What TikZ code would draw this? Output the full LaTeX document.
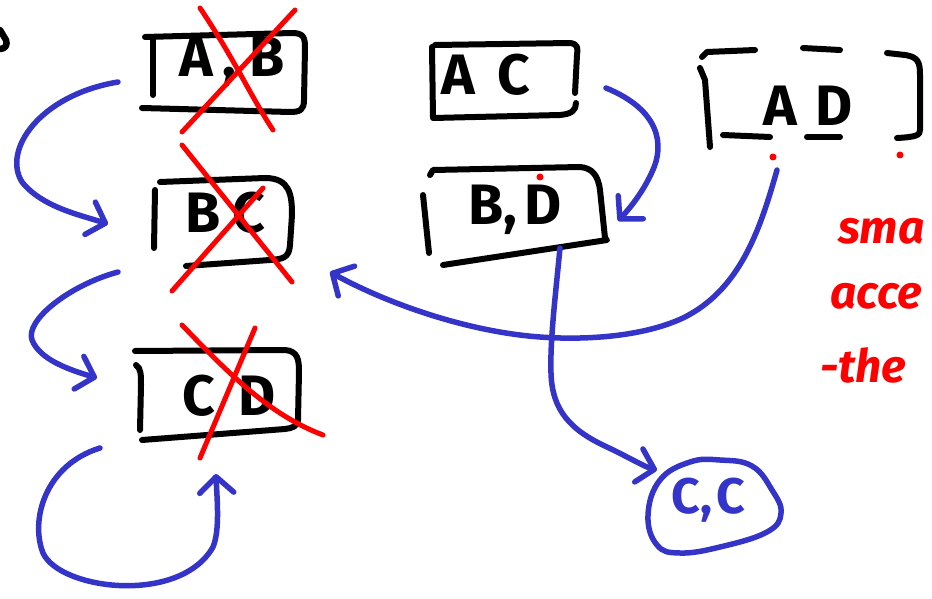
\documentclass[tikz,border=0pt]{standalone}
\usepackage{fontspec}
\setmainfont{Fira Sans}
\usetikzlibrary{arrows.meta,calc}
\definecolor{penblue}{HTML}{3434C8}
\definecolor{penred}{HTML}{FF0000}
\begin{document}
\begin{tikzpicture}[x=1pt,y=-1pt,line cap=round,line join=round,
  outline/.style={line width=6pt,draw=black},
  strike/.style={line width=5pt,draw=penred},
  link/.style={line width=5.5pt,draw=penblue,-{Straight Barb[length=16pt,width=34pt,round]}},
  letters/.style={font=\fontsize{57}{62}\selectfont\bfseries,inner sep=0pt,text=black},
  note/.style={font=\fontsize{46}{50}\selectfont\bfseries\itshape,text=penred,inner sep=0pt,anchor=base west},
  reddot/.style={fill=penred,circle,inner sep=0pt,minimum size=7pt}]
\useasboundingbox (0,0) rectangle (932,599);
\clip (0,0) rectangle (932,599);

% stray stroke at the top-left edge
\draw[line width=6.5pt] (0,30) -- (6,40) .. controls (8,45) and (5,49) .. (0,49);

% ---- pair boxes ----
\node[letters] (ab) at (232,62) {A\hspace{9pt},\hspace{13pt}B};
\draw[outline] (153,38) -- (153,95);
\draw[outline] (145,37) -- (292,33) .. controls (304,33) and (305,38) .. (305,48)
  -- (304,100) .. controls (304,110) and (300,112) .. (290,112) -- (142,108);

\node[letters] (bc) at (225,213) {B\hspace{12pt}C};
\draw[outline] (155,190) -- (154,248);
\draw[outline] (160,182) -- (265,178) .. controls (290,178) and (292,195) .. (292,215)
  -- (290,245) .. controls (289,258) and (283,259) .. (270,260) -- (186,266);

\node[letters] (cd) at (229,396) {C\hspace{24pt}D};
\draw[outline] (136,365) .. controls (141,368) and (141,375) .. (141,385) -- (140,430);
\draw[outline] (135,351) -- (285,350) .. controls (298,351) and (299,360) .. (299,372)
  -- (298,420) .. controls (297,427) and (292,428) .. (285,429) -- (142,440);

\node[letters] (ac) at (486,75) {A\hspace{22pt}C};
\draw[outline] (432,47) -- (433,118) -- (560,115) .. controls (572,114) and (576,110) .. (576,103);
\draw[outline] (435,45) -- (570,43) .. controls (578,44) and (578,48) .. (577,55) -- (575,93);

\node[letters] (bd) at (515,210) {B,\hspace{8pt}D};
\draw[outline] (430,175) -- (433,170) -- (580,167) .. controls (592,168) and (598,175) .. (600,190)
  -- (605,238) -- (607,240) -- (443,265);
\draw[outline] (423,195) -- (429,253);
\node[reddot] (bd-dot) at (540,177) {};

\node[letters] (ad) at (808,106) {A\hspace{18pt}D};
\draw[outline] (702,57) -- (707,52) -- (755,50);
\draw[outline] (803,48) -- (840,50);
\draw[outline] (887,53) -- (905,55) .. controls (918,57) and (920,62) .. (920,75)
  -- (920,130) .. controls (920,135) and (917,137) .. (897,138);
\draw[outline] (807,137) -- (840,137);
\draw[outline] (723,135) -- (770,137);
\draw[outline] (700,68) -- (705,80) -- (710,147);
\node[reddot] (ad-dot1) at (773,157) {};
\node[reddot] (ad-dot2) at (900,155) {};

% ---- crossed-out pairs ----
\draw[strike] (200,8) .. controls (235,60) and (250,95) .. (273,130);
\draw[strike] (295,10) -- (182,132);
\draw[strike] (182,145) -- (292,282);
\draw[strike] (263,188) -- (172,291);
\draw[strike] (182,325) .. controls (230,375) and (270,415) .. (323,435);
\draw[strike] (255,328) -- (200,458);

% ---- result blob ----
\node[font=\fontsize{50}{54}\selectfont\bfseries,text=penblue,inner sep=0pt] (cc) at (708,500) {C,\hspace{4pt}C};
\draw[line width=5.5pt,penblue] plot[smooth cycle,tension=0.7] coordinates
  {(648,515) (660,480) (690,462) (720,460) (752,466) (772,490) (781,513)
   (767,532) (720,547) (680,553) (657,545)};

% ---- connector end points ----
\coordinate (ab-tail) at (118,82);
\coordinate (bc-head) at (108,224);
\coordinate (bc-tail) at (118,272);
\coordinate (cd-head) at (97,378);
\coordinate (cd-tail) at (100,448);
\coordinate (cd-loop) at (216,474);
\coordinate (ac-tail) at (606,88);
\coordinate (bd-head) at (618,221);
\coordinate (ad-tail) at (777,170);
\coordinate (bc-side) at (330,272);
\coordinate (bd-tail) at (560,248);
\coordinate (cc-head) at (657,470);

% ---- blue connectors ----
\draw[link] (ab-tail) .. controls (40,95) and (2,150) .. (22,182)
  .. controls (42,207) and (80,215) .. (bc-head);
\draw[link] (bc-tail) .. controls (70,285) and (25,320) .. (32,340)
  .. controls (40,360) and (70,370) .. (cd-head);
\draw[link] (cd-tail) .. controls (45,465) and (30,520) .. (43,553)
  .. controls (60,590) and (180,605) .. (213,547)
  .. controls (220,530) and (217,500) .. (cd-loop);
\draw[link] (ac-tail) .. controls (660,110) and (665,145) .. (652,172)
  .. controls (643,192) and (630,208) .. (bd-head);
\draw[link] (ad-tail) .. controls (760,230) and (740,290) .. (683,318)
  .. controls (640,338) and (580,340) .. (540,337)
  .. controls (470,332) and (390,305) .. (bc-side);
\draw[link] (bd-tail) .. controls (555,300) and (550,340) .. (551,373)
  .. controls (552,410) and (570,430) .. (607,447)
  .. controls (630,458) and (645,467) .. (cc-head);

% ---- margin note ----
\node[note] (n1) at (838,243) {sma};
\node[note] (n2) at (830,308) {acce};
\node[note] (n3) at (820,382) {-the};
\end{tikzpicture}
\end{document}
